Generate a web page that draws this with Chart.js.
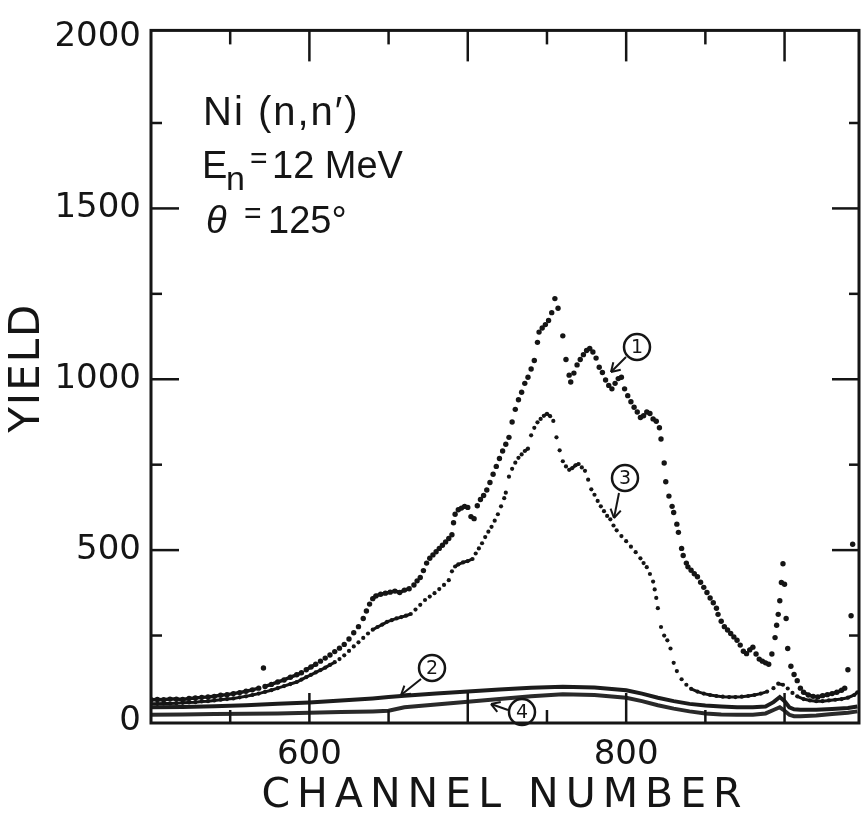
<!DOCTYPE html>
<html><head><meta charset="utf-8">
<script src="https://cdn.jsdelivr.net/npm/chart.js@4.4.0/dist/chart.umd.min.js"></script>
<style>html,body{margin:0;padding:0;background:#fff;}</style>
</head><body>
<canvas id="c" width="863" height="819"></canvas>
<script>
// ---- data ----
const s1Ch = [500,504,508,512,516,520,524,528,532,536,540,544,548,552,556,560,564,568,571,572,576,580,584,588,592,595,598,601,604,607,610,613,616,619,622,625,628,631,634,636,638,640,642,645,648,651,654,657,660,663,666,668,670,672,674,676,678,680,682,684,686,688,690,691,692,694,696,698,700,702,704,706,708,710,712,714,716,718,720,722,724,726,728,730,732,734,736,738,740,742,744,745,747,749,751,753,755,757,760,762,764,765,767,769,771,773,775,777,779,781,783,785,787,789,791,793,795,797,799,801,803,805,807,809,811,813,815,817,819,821,822,824,825,827,829,830,832,833,835,836,838,839,841,843,845,847,849,851,853,855,857,858,860,862,864,866,868,870,872,874,876,878,880,882,884,886,888,890,892,894,895,896,897,898,899,900,901,902,904,906,908,910,912,915,918,921,924,927,930,933,936,938,940,942,943];
const s1Y  = [62,63,62,64,64,63,66,67,69,70,72,75,77,80,83,87,91,96,155,101,107,114,120,128,135,141,150,158,166,175,184,193,203,213,224,240,258,276,300,322,342,358,366,371,374,377,380,376,383,387,398,410,420,440,462,476,486,495,505,514,524,534,545,580,605,618,623,628,625,598,592,630,648,660,676,698,722,745,768,790,810,830,875,912,940,962,988,1006,1030,1055,1108,1138,1150,1160,1172,1195,1236,1208,1127,1058,1012,992,1018,1042,1058,1072,1084,1090,1080,1062,1035,1020,998,982,972,988,1002,1006,972,952,934,918,904,888,893,904,900,884,877,858,825,755,700,658,628,610,576,552,505,484,462,451,441,431,422,406,391,376,360,346,330,312,292,276,266,256,246,236,222,204,197,208,216,196,181,175,170,166,196,244,280,312,352,405,460,400,300,212,160,136,118,96,84,76,72,70,74,77,80,84,90,96,150,308,517];

const s3Ch = [500,504,508,512,516,520,524,528,532,536,540,544,548,552,556,560,564,568,572,576,580,584,588,592,595,598,601,604,607,610,613,616,619,622,625,628,631,634,637,640,643,646,649,652,655,658,661,664,667,670,673,676,679,682,685,688,690,692,694,697,700,703,705,707,709,711,713,715,717,719,721,723,724,726,728,730,732,734,736,738,740,742,744,746,748,750,752,754,756,758,760,762,764,766,768,770,772,774,776,778,780,782,784,786,788,790,792,794,797,800,803,806,809,811,813,815,817,818,819,820,822,824,826,828,830,832,835,838,841,845,849,853,857,861,865,869,873,877,881,885,889,893,896,899,902,905,908,912,916,920,924,928,932,936,940,944,946];
const s3Y  = [50,50,51,51,52,53,54,55,57,58,60,62,64,66,69,72,76,80,85,90,96,102,108,114,121,128,135,142,149,156,164,172,181,192,205,218,230,243,256,267,275,282,290,295,300,304,308,313,326,340,354,364,374,386,398,412,438,452,458,464,468,474,490,505,520,538,554,568,586,605,628,652,668,715,738,756,770,780,790,797,836,858,874,884,893,899,892,878,830,792,760,745,735,740,748,752,742,732,706,678,662,644,628,614,600,590,572,558,541,526,510,494,476,462,450,430,408,385,360,330,275,250,236,212,170,146,122,106,94,86,80,76,73,71,70,70,71,73,76,80,86,96,109,106,95,82,72,64,60,58,58,60,62,64,68,76,84];

const s2Ch = [500,520,540,560,580,600,620,640,650,660,680,700,720,740,760,780,800,810,820,830,840,850,860,870,880,888,893,897,900,903,906,910,920,930,940,946];
const s2Y  = [40,41,43,46,50,54,60,66,70,74,80,86,92,97,100,98,90,80,68,58,50,45,42,40,40,42,55,70,58,40,34,33,33,35,38,42];

const s4Ch = [500,520,540,560,580,600,620,640,650,660,680,700,720,740,760,780,800,810,820,830,840,850,860,870,880,888,893,897,900,903,906,910,920,930,940,946];
const s4Y  = [18,19,20,21,22,24,26,28,30,40,48,56,64,72,78,76,68,58,46,36,28,22,19,18,18,22,32,40,30,18,14,14,16,20,24,28];

const xTickLabels = [600, 800];
const yTickLabels = [0, 500, 1000, 1500, 2000];
const xMajorTicks = [600, 700, 800, 900];
const xMinorTicks = [550, 650, 750, 850];
const yMajorTicks = [500, 1000, 1500];
const yMinorTicks = [250, 750, 1250, 1750];

const xTitle = 'CHANNEL NUMBER';
const yTitle = 'YIELD';
const curveLabels = ['1', '2', '3', '4'];

// ---- build ----
const pts = (xs, ys) => xs.map((v, i) => ({x: v, y: ys[i]}));
const INK = '#151515';
// dense, nearly flat runs of points merge into a band; steep runs stay as separate dots
const flat = ctx => Math.abs(ctx.p1.y - ctx.p0.y) < 3 && Math.abs(ctx.p1.x - ctx.p0.x) < 8 ? INK : 'rgba(0,0,0,0)';

const framePlugin = {
  id: 'frame',
  beforeDraw(chart) {
    ['x', 'y'].forEach(id => {
      const s = chart.scales[id];
      if (s && !s._spaced) {
        const orig = s.drawTitle;
        s.drawTitle = function () {
          const c = this.ctx; c.save();
          c.letterSpacing = id === 'x' ? '7px' : '2px';
          if (id === 'y') c.translate(0, -9);
          orig.apply(this, arguments); c.restore();
        };
        s._spaced = true;
      }
    });
  },
  afterDatasetsDraw(chart) {
    const {ctx, chartArea: a, scales: {x, y}} = chart;
    ctx.save();
    ctx.strokeStyle = INK;
    ctx.lineWidth = 3;
    ctx.strokeRect(a.left, a.top, a.right - a.left, a.bottom - a.top);
    ctx.lineWidth = 2.5;
    const seg = (x1, y1, x2, y2) => { ctx.beginPath(); ctx.moveTo(x1, y1); ctx.lineTo(x2, y2); ctx.stroke(); };
    xMajorTicks.forEach(v => { const p = x.getPixelForValue(v); seg(p, a.top, p, a.top + 31); seg(p, a.bottom, p, a.bottom - 30); });
    xMinorTicks.forEach(v => { const p = x.getPixelForValue(v); seg(p, a.top, p, a.top + 14); seg(p, a.bottom, p, a.bottom - 13); });
    yMajorTicks.forEach(v => { const p = y.getPixelForValue(v); seg(a.left, p, a.left + 28, p); seg(a.right, p, a.right - 27, p); });
    yMinorTicks.forEach(v => { const p = y.getPixelForValue(v); seg(a.left, p, a.left + 11, p); seg(a.right, p, a.right - 10, p); });
    ctx.restore();
  },
  afterDraw(chart) {
    const {ctx} = chart;
    ctx.save();
    ctx.fillStyle = INK; ctx.strokeStyle = INK;
    ctx.textBaseline = 'alphabetic'; ctx.textAlign = 'left';
    ctx.font = '40px "Liberation Sans"';
    ctx.letterSpacing = '2px';
    ctx.fillText('Ni (n,n\u2032)', 203, 125);
    ctx.letterSpacing = '0px';
    ctx.font = '38px "Liberation Sans"';
    ctx.fillText('E', 202, 178);
    ctx.font = '34px "Liberation Sans"';
    ctx.fillText('n', 226, 190);
    ctx.font = '30px "Liberation Sans"';
    ctx.fillText('=', 250, 168);
    ctx.font = '38px "Liberation Sans"';
    ctx.fillText('12 MeV', 272, 178);
    ctx.font = 'italic 38px "Liberation Sans"';
    ctx.fillText('\u03b8', 206, 233);
    ctx.font = '30px "Liberation Sans"';
    ctx.fillText('=', 244, 223);
    ctx.font = '38px "Liberation Sans"';
    ctx.fillText('125\u00b0', 268, 233);

    // circled curve numbers with arrows
    const marks = [
      {c: [637, 347], a: [[626, 357], [611, 372]]},
      {c: [432, 668], a: [[421, 679], [401, 695]]},
      {c: [625, 478], a: [[619, 493], [614, 518]]},
      {c: [522, 712], a: [[508, 710], [491, 704]]}
    ];
    marks.forEach((m, i) => {
      ctx.lineWidth = 2.5;
      ctx.beginPath(); ctx.arc(m.c[0], m.c[1], 13, 0, Math.PI * 2); ctx.stroke();
      ctx.font = '19px "DejaVu Sans"';
      ctx.textAlign = 'center'; ctx.textBaseline = 'middle';
      ctx.fillText(curveLabels[i], m.c[0], m.c[1] + 1);
      const [p0, p1] = m.a;
      ctx.lineWidth = 2;
      ctx.beginPath(); ctx.moveTo(p0[0], p0[1]); ctx.lineTo(p1[0], p1[1]); ctx.stroke();
      const ang = Math.atan2(p1[1] - p0[1], p1[0] - p0[0]);
      [0.55, -0.55].forEach(d => {
        ctx.beginPath(); ctx.moveTo(p1[0], p1[1]);
        ctx.lineTo(p1[0] - 10 * Math.cos(ang + d), p1[1] - 10 * Math.sin(ang + d)); ctx.stroke();
      });
    });
    ctx.restore();
  }
};

const tickFont = {family: '"DejaVu Sans"', size: 34};
const plain = v => String(v);

new Chart(document.getElementById('c'), {
  type: 'scatter',
  data: {
    datasets: [
      {label: '4', data: pts(s4Ch, s4Y), showLine: true, borderColor: '#2a2a2a', borderWidth: 4, pointRadius: 0, order: 4},
      {label: '2', data: pts(s2Ch, s2Y), showLine: true, borderColor: '#1c1c1c', borderWidth: 4, pointRadius: 0, order: 3},
      {label: '3', data: pts(s3Ch, s3Y), showLine: true, borderWidth: 3, segment: {borderColor: flat}, pointRadius: 2.1, pointBackgroundColor: INK, pointBorderWidth: 0, order: 2},
      {label: '1', data: pts(s1Ch, s1Y), showLine: true, borderWidth: 3.5, segment: {borderColor: flat}, pointRadius: 2.7, pointBackgroundColor: INK, pointBorderWidth: 0, order: 1}
    ]
  },
  options: {
    responsive: false,
    animation: false,
    devicePixelRatio: 1,
    layout: {padding: {top: 22, right: 3, left: 0, bottom: 0}},
    plugins: {legend: {display: false}, tooltip: {enabled: false}},
    scales: {
      x: {
        type: 'linear', min: 500, max: 947,
        afterBuildTicks: s => { s.ticks = xTickLabels.map(v => ({value: v})); },
        afterFit: s => { s.height = 96; },
        grid: {display: false, drawTicks: false},
        border: {display: false},
        ticks: {font: tickFont, color: INK, padding: 12, maxRotation: 0, autoSkip: false, callback: plain},
        title: {display: true, text: xTitle, font: {family: '"DejaVu Sans"', size: 41, lineHeight: 1.0}, color: INK, padding: {top: 0, bottom: 2}}
      },
      y: {
        type: 'linear', min: -6, max: 2021,
        afterBuildTicks: s => { s.ticks = yTickLabels.map(v => ({value: v})); },
        afterFit: s => { s.width = 151; },
        grid: {display: false, drawTicks: false},
        border: {display: false},
        ticks: {font: tickFont, color: INK, padding: 10, autoSkip: false, callback: plain},
        title: {display: true, text: yTitle, font: {family: '"DejaVu Sans"', size: 42, lineHeight: 1.2}, color: INK, padding: {top: 3, bottom: 0}}
      }
    }
  },
  plugins: [framePlugin]
});
</script>
</body></html>
